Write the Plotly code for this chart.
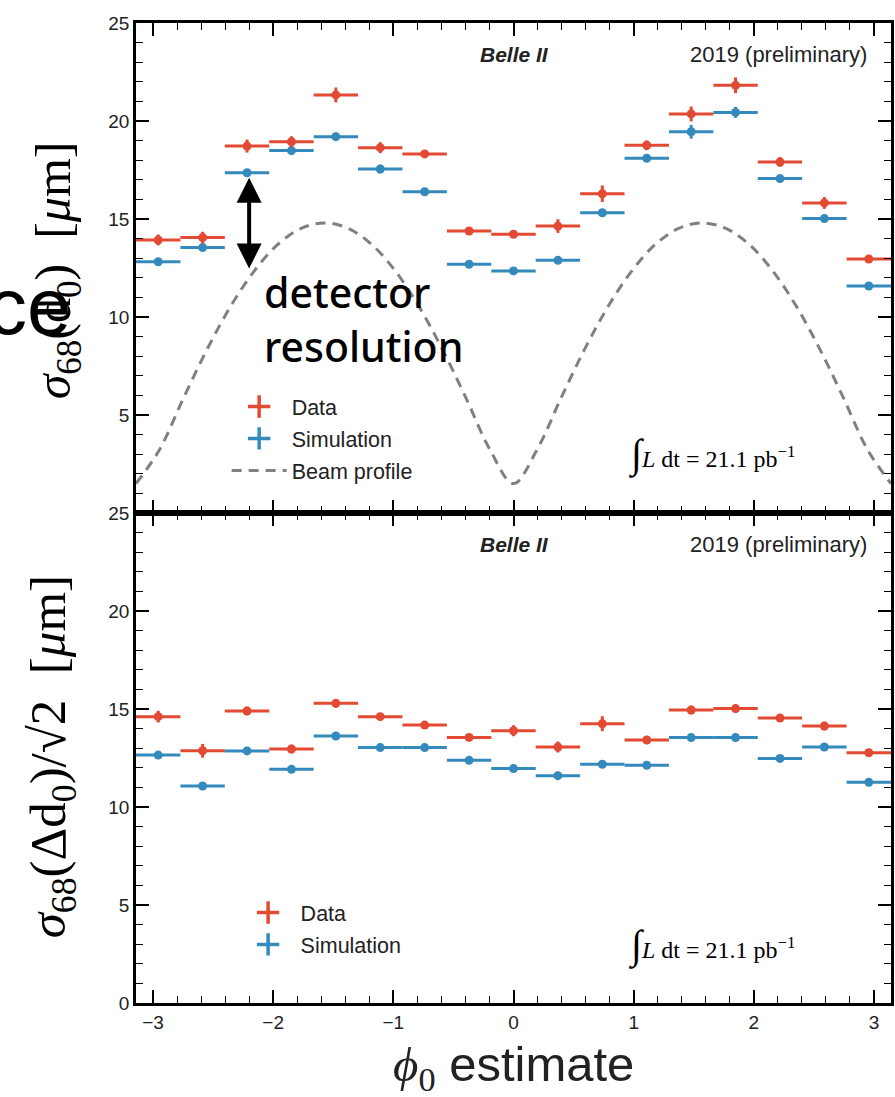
import numpy as np
import plotly.graph_objects as go

# ---------------- data ----------------
n_bins = 17
bin_edges = np.linspace(-np.pi, np.pi, n_bins + 1)
phi_centers = 0.5 * (bin_edges[:-1] + bin_edges[1:])
half_width = 0.5 * (bin_edges[1] - bin_edges[0])

# top panel: sigma68(d0) [um]
top_data = [13.93, 14.05, 18.72, 18.94, 21.33, 18.64, 18.32, 14.39, 14.22, 14.64,
            16.29, 18.76, 20.36, 21.82, 17.91, 15.82, 12.96]
top_data_err = [0.28, 0.30, 0.33, 0.28, 0.38, 0.28, 0.20, 0.20, 0.18, 0.35,
                0.42, 0.25, 0.38, 0.40, 0.25, 0.30, 0.15]
top_sim = [12.82, 13.54, 17.36, 18.49, 19.20, 17.55, 16.39, 12.69, 12.35, 12.89,
           15.32, 18.10, 19.45, 20.44, 17.06, 15.02, 11.58]
top_sim_err = [0.12, 0.15, 0.15, 0.22, 0.20, 0.22, 0.12, 0.10, 0.10, 0.12,
               0.12, 0.15, 0.35, 0.28, 0.15, 0.12, 0.12]

# beam profile (dashed curve), sampled every pi/16
beam_phi = np.linspace(-np.pi, np.pi, 33)
beam_profile = [1.50, 3.24, 5.83, 8.32, 10.52, 12.33, 13.69, 14.52, 14.80,
                14.52, 13.69, 12.33, 10.52, 8.32, 5.83, 3.24, 1.50,
                3.24, 5.83, 8.32, 10.52, 12.33, 13.69, 14.52, 14.80,
                14.52, 13.69, 12.33, 10.52, 8.32, 5.83, 3.24, 1.50]

# bottom panel: sigma68(Delta d0)/sqrt(2) [um]
bot_data = [14.61, 12.87, 14.90, 12.96, 15.29, 14.61, 14.18, 13.55, 13.89, 13.06,
            14.25, 13.42, 14.95, 15.02, 14.54, 14.13, 12.77]
bot_data_err = [0.30, 0.35, 0.22, 0.22, 0.22, 0.15, 0.15, 0.15, 0.28, 0.28,
                0.38, 0.15, 0.22, 0.22, 0.15, 0.22, 0.18]
bot_sim = [12.65, 11.07, 12.86, 11.92, 13.62, 13.03, 13.03, 12.38, 11.96, 11.60,
           12.18, 12.13, 13.54, 13.54, 12.48, 13.06, 11.26]
bot_sim_err = [0.08, 0.08, 0.08, 0.08, 0.08, 0.08, 0.08, 0.08, 0.08, 0.08,
               0.08, 0.08, 0.08, 0.08, 0.08, 0.08, 0.08]

x_tick_vals = [-3, -2, -1, 0, 1, 2, 3]
top_y_ticks = [5, 10, 15, 20, 25]
bot_y_ticks = [0, 5, 10, 15, 20, 25]

RED = "#E24A33"
BLUE = "#348ABD"
GREY = "#808080"
TXT = "#222222"

# ---------------- layout helpers ----------------
W, H = 895, 1097
L, R, T, B = 136, 1, 23, 94
PW, PH = W - L - R, H - T - B


def fx(p):
    return (p - L) / PW


def fy(p):
    return (H - B - p) / PH


fig = go.Figure()


def add_points(x, y, ey, color, xa, ya):
    fig.add_trace(go.Scatter(
        x=x, y=y, mode="markers", xaxis=xa, yaxis=ya, showlegend=False,
        marker=dict(color=color, size=9),
        error_x=dict(type="constant", value=half_width, color=color, thickness=3, width=0),
        error_y=dict(type="data", array=ey, color=color, thickness=3, width=0),
        hoverinfo="x+y",
    ))


# top panel
fig.add_trace(go.Scatter(x=beam_phi, y=beam_profile, mode="lines", xaxis="x", yaxis="y",
                         line=dict(color=GREY, width=3, dash="10px,7px", shape="spline"),
                         showlegend=False))
add_points(phi_centers, top_sim, top_sim_err, BLUE, "x", "y")
add_points(phi_centers, top_data, top_data_err, RED, "x", "y")
# bottom panel
add_points(phi_centers, bot_sim, bot_sim_err, BLUE, "x2", "y2")
add_points(phi_centers, bot_data, bot_data_err, RED, "x2", "y2")

# legend entries
def leg_marker(name, color, legend, group):
    fig.add_trace(go.Scatter(x=[None], y=[None], mode="markers", name=name, legend=legend,
                             legendgroup=group,
                             marker=dict(symbol="cross-thin", size=16, color=color,
                                         line=dict(color=color, width=3.5))))


leg_marker("Data", RED, "legend", "a")
leg_marker("Simulation", BLUE, "legend", "b")
fig.add_trace(go.Scatter(x=[None], y=[None], mode="lines", name="Beam profile", legend="legend",
                         legendgroup="c", line=dict(color=GREY, width=3, dash="10px,7px")))
leg_marker("Data", RED, "legend2", "d")
leg_marker("Simulation", BLUE, "legend2", "e")

axis_common = dict(
    showline=True, linewidth=2.5, linecolor="black", mirror="allticks",
    ticks="inside", ticklen=13, tickwidth=1.5, tickcolor="black",
    showgrid=False, zeroline=False,
    tickfont=dict(family="Liberation Sans", size=19, color=TXT),
)

fig.update_layout(
    width=W, height=H,
    margin=dict(l=L, r=R, t=T, b=B),
    paper_bgcolor="white", plot_bgcolor="white",
    xaxis=dict(axis_common, domain=[0, 1], anchor="y", range=[-np.pi, np.pi],
               tickvals=x_tick_vals, showticklabels=False,
               minor=dict(ticks="inside", ticklen=7, dtick=0.2, tick0=0, tickcolor="black", tickwidth=1.2)),
    yaxis=dict(axis_common, domain=[0.5, 1], anchor="x", range=[0, 25],
               tickvals=top_y_ticks,
               minor=dict(ticks="inside", ticklen=7, dtick=1, tick0=0, tickcolor="black", tickwidth=1.2)),
    xaxis2=dict(axis_common, domain=[0, 1], anchor="y2", range=[-np.pi, np.pi],
                tickvals=x_tick_vals,
                minor=dict(ticks="inside", ticklen=7, dtick=0.2, tick0=0, tickcolor="black", tickwidth=1.2)),
    yaxis2=dict(axis_common, domain=[0, 0.5], anchor="x2", range=[0, 25],
                tickvals=bot_y_ticks,
                minor=dict(ticks="inside", ticklen=7, dtick=1, tick0=0, tickcolor="black", tickwidth=1.2)),
    legend=dict(x=fx(227), y=fy(386), xanchor="left", yanchor="top", bgcolor="rgba(0,0,0,0)",
                font=dict(family="Liberation Sans", size=21.5, color=TXT),
                traceorder="grouped", tracegroupgap=1, itemwidth=55),
    legend2=dict(x=fx(236), y=fy(892), xanchor="left", yanchor="top", bgcolor="rgba(0,0,0,0)",
                 font=dict(family="Liberation Sans", size=21.5, color=TXT),
                 traceorder="grouped", tracegroupgap=1, itemwidth=55),
)

ann = []


def text(px, py, s, size, family="Liberation Sans", color=TXT, xanchor="left", angle=0, weight=None):
    f = dict(family=family, size=size, color=color)
    if weight:
        f["weight"] = weight
    ann.append(dict(x=fx(px), y=fy(py), xref="paper", yref="paper", text=s, showarrow=False,
                    xanchor=xanchor, yanchor="middle", textangle=angle, font=f))


for yc in (55, 544):
    text(553, yc, "<b><i>Belle II</i></b>", 21, xanchor="right")
    text(872, yc, "2019 (preliminary)", 22, xanchor="right")

for yc in (455, 945):
    text(628, yc, "<span style='font-size:40px'>∫</span><i>L</i> dt = 21.1 pb<sup>−1</sup>", 24,
         family="Liberation Serif", color="black")

# detector resolution
text(263, 292, "detector", 41, family="Noto Sans", color="black", weight=500)
text(263, 346, "resolution", 41, family="Noto Sans", color="black", weight=500)

# y axis titles
text(57, 270, "<i>σ</i><sub>68</sub>(d<sub>0</sub>)\u00a0\u00a0[<i>μ</i>m]", 50,
     family="Liberation Serif", color="black", xanchor="center", angle=-90)
text(52, 757, "<i>σ</i><sub>68</sub>(Δd<sub>0</sub>)/√2\u00a0\u00a0[<i>μ</i>m]", 51,
     family="Liberation Serif", color="black", xanchor="center", angle=-90)

# x axis title
text(515, 1067, "<span style='font-family:Liberation Serif'><i>ϕ</i><sub>0</sub></span> estimate", 49,
     color=TXT, xanchor="center")

# overlapping slide text fragment
text(74, 306, "ce", 80, color="black", xanchor="right")

# double-headed arrow
ann.append(dict(x=-2.2, y=17.1, ax=-2.2, ay=12.4, xref="x", yref="y", axref="x", ayref="y",
                text="", showarrow=True, arrowside="end+start", arrowhead=2, startarrowhead=2,
                arrowsize=1.25, startarrowsize=1.25, arrowwidth=4, arrowcolor="black",
                standoff=0, startstandoff=0))

fig.update_layout(annotations=ann)
fig.write_html("out.html")
